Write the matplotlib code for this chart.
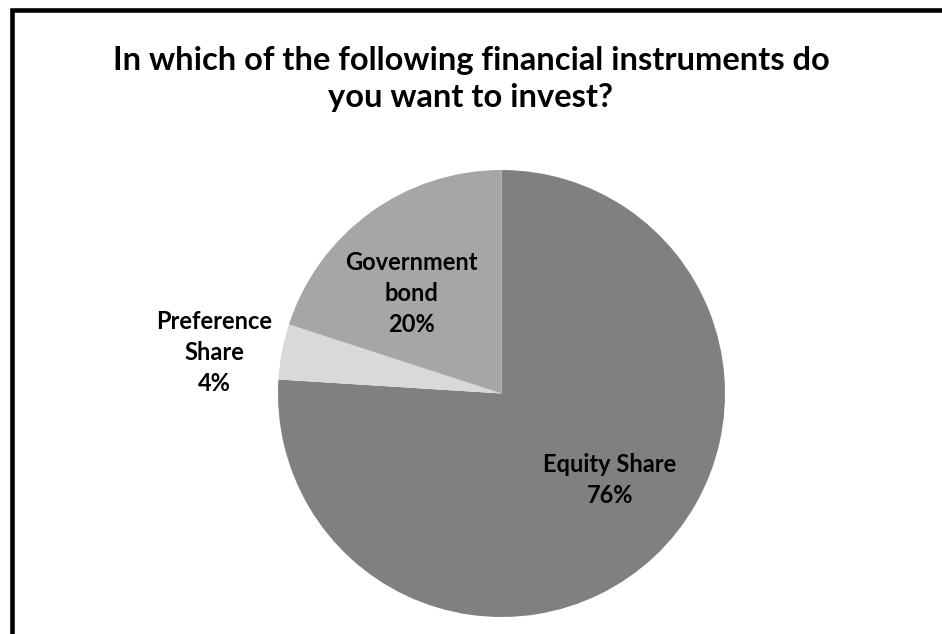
import matplotlib.pyplot as plt
from matplotlib.patches import Rectangle
import numpy as np

# Survey answers
categories = ["Equity Share", "Preference\nShare", "Government\nbond"]
shares = [76, 4, 20]
colors = ["#808080", "#d9d9d9", "#a6a6a6"]

# label placement (fraction of radius, angle offset in degrees from wedge middle)
label_radius = [0.62, 1.30, 0.60]
label_shift = [8.2, 2.6, 6.0]

W, H = 942, 634
fig = plt.figure(figsize=(W / 100, H / 100), dpi=100)
fig.patch.set_facecolor("white")

# pie centre and radius in pixels
cx, cy, r = 501.5, 393.5, 223.5
ax = fig.add_axes([(cx - r) / W, (H - cy - r) / H, 2 * r / W, 2 * r / H])

wedges, _ = ax.pie(shares, colors=colors, startangle=90, counterclock=False,
                   radius=1, wedgeprops=dict(linewidth=0))
ax.set_xlim(-1, 1)
ax.set_ylim(-1, 1)
ax.axis("off")

font = ["Lato", "DejaVu Sans"]
for w, name, val, lr, sh in zip(wedges, categories, shares, label_radius, label_shift):
    mid = np.deg2rad((w.theta1 + w.theta2) / 2 + sh)
    ax.text(lr * np.cos(mid), lr * np.sin(mid), f"{name}\n{val}%",
            ha="center", va="center", fontsize=17, fontweight="bold",
            family=font, linespacing=1.42, color="black")

fig.text(0.5, (H - 79) / H, "In which of the following financial instruments do\nyou want to invest?",
         ha="center", va="center", fontsize=23.5, fontweight="bold", family=font,
         linespacing=1.34)

# chart frame (only top and left edges fall inside the image)
fig.add_artist(Rectangle((11.5 / W, -0.1), 1.2, (H - 10) / H + 0.1,
                         transform=fig.transFigure, fill=False,
                         edgecolor="black", linewidth=3.3))

fig.savefig("out.png", dpi=100)
